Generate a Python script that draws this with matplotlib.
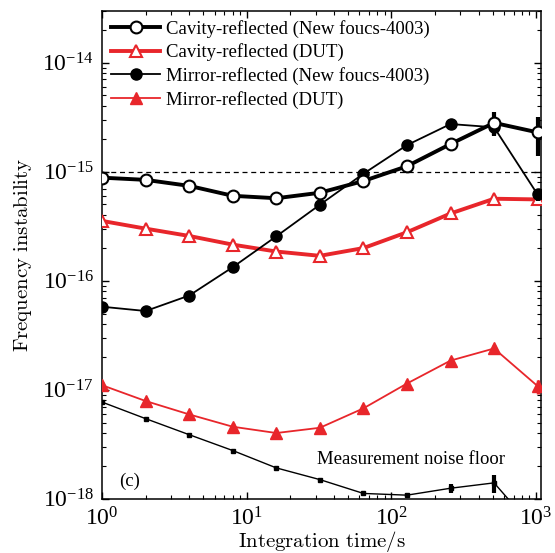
import numpy as np
import matplotlib
matplotlib.use("Agg")
from matplotlib import pyplot as plt
from matplotlib.ticker import FixedLocator, NullFormatter

plt.rcParams['mathtext.fontset'] = 'cm'
plt.rcParams['font.family'] = ['Liberation Serif', 'DejaVu Serif']

# averaging times, s
tau = [1, 2, 4, 8, 16, 32, 64, 128, 256, 512, 1024]

cav_nf = [8.8e-16, 8.4e-16, 7.4e-16, 6.0e-16, 5.7e-16, 6.4e-16,
          8.2e-16, 1.12e-15, 1.79e-15, 2.8e-15, 2.29e-15]
cav_nf_err = [0.3e-16, 0.3e-16, 0.3e-16, 0.3e-16, 0.3e-16, 0.3e-16,
              0.4e-16, 0.6e-16, 2.5e-16, 7.0e-16, 9.0e-16]

cav_dut = [3.53e-16, 3.0e-16, 2.57e-16, 2.14e-16, 1.85e-16, 1.69e-16,
           1.99e-16, 2.78e-16, 4.13e-16, 5.64e-16, 5.56e-16]
cav_dut_err = [0.2e-16, 0.25e-16, 0.25e-16, 0.2e-16, 0.2e-16, 0.2e-16,
               0.2e-16, 0.25e-16, 0.35e-16, 0.5e-16, 0.5e-16]

mir_nf = [5.77e-17, 5.27e-17, 7.31e-17, 1.33e-16, 2.55e-16, 4.97e-16,
          9.56e-16, 1.75e-15, 2.73e-15, 2.55e-15, 6.17e-16]
mir_nf_err = [0.2e-17, 0.2e-17, 0.3e-17, 0.5e-17, 1.0e-17, 2.0e-17,
              4.0e-17, 0.8e-16, 1.0e-16, 4.0e-16, 0.8e-16]

mir_dut = [1.10e-17, 7.88e-18, 5.94e-18, 4.58e-18, 4.01e-18, 4.48e-18,
           6.75e-18, 1.14e-17, 1.85e-17, 2.39e-17, 1.08e-17]
mir_dut_err = [0.8e-18, 0.6e-18, 0.5e-18, 0.4e-18, 0.4e-18, 0.4e-18,
               0.5e-18, 0.9e-18, 1.5e-18, 2.0e-18, 1.6e-18]

floor = [7.7e-18, 5.43e-18, 3.87e-18, 2.77e-18, 1.92e-18, 1.50e-18,
         1.12e-18, 1.08e-18, 1.25e-18, 1.40e-18, 4.9e-19]
floor_err = [0.05e-18, 0.04e-18, 0.03e-18, 0.03e-18, 0.03e-18, 0.03e-18,
             0.04e-18, 0.05e-18, 0.12e-18, 0.27e-18, 0.05e-18]

x_decades = [1, 10, 100, 1000]
y_decades = [1e-18, 1e-17, 1e-16, 1e-15, 1e-14]

red = '#e8262b'

fig = plt.figure(figsize=(5.55, 5.53), dpi=100)
ax = fig.add_axes([0.184, 0.098, 0.791, 0.883])

ax.errorbar(tau, floor, yerr=floor_err, color='k', lw=1.0, marker='s',
            ms=2.5, elinewidth=3, capsize=0, zorder=2)
ax.errorbar(tau, mir_dut, yerr=mir_dut_err, color=red, lw=1.3, marker='^',
            ms=9, elinewidth=2.5, capsize=0, zorder=3,
            label='Mirror-reflected (DUT)')
ax.errorbar(tau, cav_dut, yerr=cav_dut_err, color=red, lw=2.8, marker='^',
            ms=9, mfc='white', mec=red, mew=1.5, elinewidth=2.5, capsize=0,
            zorder=4, label='Cavity-reflected (DUT)')
ax.errorbar(tau, mir_nf, yerr=mir_nf_err, color='k', lw=1.3, marker='o',
            ms=8, elinewidth=3, capsize=0, zorder=5,
            label='Mirror-reflected (New foucs-4003)')
ax.errorbar(tau, cav_nf, yerr=cav_nf_err, color='k', lw=2.8, marker='o',
            ms=8.5, mfc='white', mec='k', mew=1.5, elinewidth=3, capsize=0,
            zorder=6, label='Cavity-reflected (New foucs-4003)')

ax.axhline(1e-15, color='k', ls=(0, (4, 3)), lw=0.9, zorder=1)

ax.set_xscale('log')
ax.set_yscale('log')
ax.set_xlim(1, 1083)
ax.set_ylim(1e-18, 3e-14)

ax.xaxis.set_major_locator(FixedLocator(x_decades))
ax.yaxis.set_major_locator(FixedLocator(y_decades))
ax.xaxis.set_minor_locator(FixedLocator(
    [d * k for d in x_decades for k in range(2, 10) if d * k <= 1083]))
ax.yaxis.set_minor_locator(FixedLocator(
    [d * k for d in y_decades for k in range(2, 10) if d * k <= 3e-14]))
ax.xaxis.set_minor_formatter(NullFormatter())
ax.yaxis.set_minor_formatter(NullFormatter())
ax.tick_params(which='both', direction='in', top=True, right=True,
               labelsize=17)
ax.tick_params(which='major', length=5, width=1)
ax.tick_params(which='minor', length=3, width=0.8)
ax.tick_params(axis='x', pad=6)
ax.tick_params(axis='y', pad=6)
for s in ax.spines.values():
    s.set_linewidth(1.1)

ax.set_xlabel(r'$\mathrm{Integration\ time/s}$', fontsize=15, labelpad=-1)
ax.set_ylabel(r'$\mathrm{Frequency\ instability}$', fontsize=15, labelpad=6)

ax.text(30.6, 2.28e-18, 'Measurement noise floor', fontsize=13.5,
        va='center', ha='left')
ax.text(1.31, 1.45e-18, '(c)', fontsize=13.5, va='center', ha='left')

# legend shows only the line+marker part of each errorbar container
handles, labels = ax.get_legend_handles_labels()
order = [3, 1, 2, 0]
ax.legend([handles[i][0] for i in order], [labels[i] for i in order],
          loc='upper left', frameon=False, fontsize=13.5, handlelength=2.6,
          handletextpad=0.3, labelspacing=0.3, borderaxespad=0.1,
          bbox_to_anchor=(0.0, 1.0))

fig.savefig('out.png', dpi=100)
